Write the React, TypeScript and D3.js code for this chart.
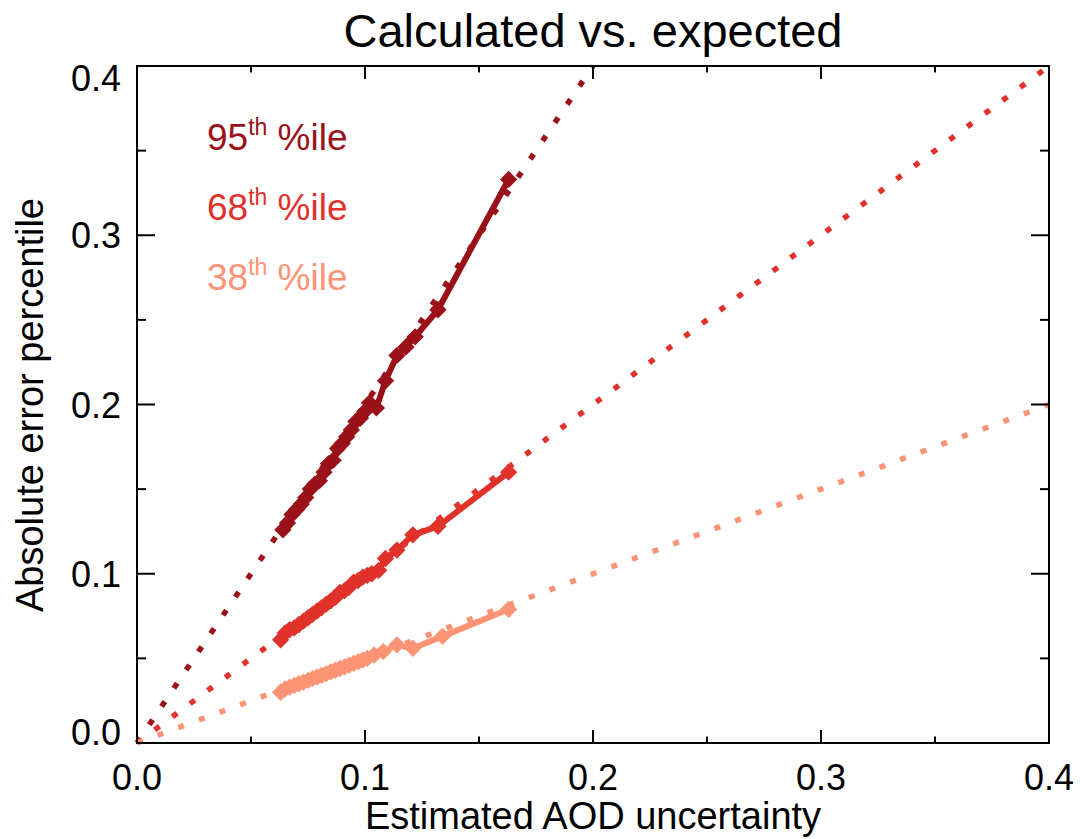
import React from "react";
import * as d3 from "d3";

const TITLE = "Calculated vs. expected";
const X_LABEL = "Estimated AOD uncertainty";
const Y_LABEL = "Absolute error percentile";

const xMajorTicks = [0, 0.1, 0.2, 0.3, 0.4];
const yMajorTicks = [0, 0.1, 0.2, 0.3, 0.4];
const minorTicks = [0.05, 0.15, 0.25, 0.35];
const tickLabels = ["0.0", "0.1", "0.2", "0.3", "0.4"];

const seriesNames = ["95", "68", "38"];
const seriesColors = ["#9b1119", "#e0312b", "#fc9374"];
const refSlopes = [2, 1, 0.5];

const p95X = [0.064, 0.066, 0.068, 0.070, 0.072, 0.074, 0.076, 0.078, 0.080, 0.082, 0.084, 0.086, 0.088, 0.090, 0.092, 0.094, 0.096, 0.098, 0.100, 0.102, 0.105, 0.109, 0.114, 0.118, 0.122, 0.132, 0.163];
const p95Y = [0.126, 0.130, 0.135, 0.138, 0.141, 0.145, 0.150, 0.153, 0.155, 0.160, 0.165, 0.167, 0.174, 0.177, 0.181, 0.185, 0.190, 0.192, 0.196, 0.201, 0.198, 0.214, 0.229, 0.234, 0.240, 0.256, 0.333];

const p68X = [0.063, 0.065, 0.067, 0.069, 0.071, 0.073, 0.075, 0.077, 0.079, 0.081, 0.083, 0.085, 0.087, 0.089, 0.091, 0.093, 0.095, 0.097, 0.099, 0.101, 0.103, 0.106, 0.109, 0.114, 0.121, 0.132, 0.163];
const p68Y = [0.061, 0.065, 0.067, 0.068, 0.070, 0.072, 0.074, 0.076, 0.078, 0.080, 0.082, 0.084, 0.086, 0.089, 0.090, 0.092, 0.095, 0.096, 0.098, 0.099, 0.100, 0.102, 0.109, 0.114, 0.123, 0.128, 0.160];

const p38X = [0.063, 0.065, 0.067, 0.069, 0.071, 0.073, 0.075, 0.077, 0.079, 0.081, 0.083, 0.085, 0.087, 0.089, 0.091, 0.093, 0.095, 0.097, 0.099, 0.101, 0.104, 0.108, 0.114, 0.121, 0.134, 0.163];
const p38Y = [0.030, 0.032, 0.033, 0.034, 0.035, 0.036, 0.037, 0.038, 0.039, 0.040, 0.041, 0.042, 0.043, 0.044, 0.045, 0.046, 0.047, 0.048, 0.049, 0.050, 0.052, 0.054, 0.058, 0.056, 0.063, 0.079];

const seriesX = [p95X, p68X, p38X];
const seriesY = [p95Y, p68Y, p38Y];

const W = 1080;
const H = 839;
const L = 137, R = 1049, T = 66, B = 743;
const FONT = "'Liberation Sans', Arial, Helvetica, sans-serif";

export default function App() {
  const x = d3.scaleLinear().domain([0, 0.4]).range([L, R]);
  const y = d3.scaleLinear().domain([0, 0.4]).range([B, T]);
  const line = d3.line<[number, number]>().x((d) => x(d[0])).y((d) => y(d[1]));
  const diamond = d3.symbol().type(d3.symbolSquare).size(150)();

  const refLines = refSlopes.map((s) => {
    const xEnd = Math.min(0.4, 0.4 / s);
    return line([[0, 0], [xEnd, xEnd * s]]) as string;
  });

  const xTickLen = 13, xMinorLen = 6.5, yTickLen = 18, yMinorLen = 9;

  return (
    <svg width={W} height={H} style={{ position: "absolute", left: 0, top: 0, background: "#fff" }} fontFamily={FONT}>
      <defs>
        <clipPath id="plotclip">
          <rect x={L - 4} y={T - 4} width={R - L + 8} height={B - T + 8} />
        </clipPath>
      </defs>
      <text x={(L + R) / 2} y={47} textAnchor="middle" fontSize={47} fill="#000">{TITLE}</text>

      {/* reference dotted lines */}
      <g clipPath="url(#plotclip)">
        {refLines.map((d, i) => (
          <path key={"ref" + i} d={d} fill="none" stroke={seriesColors[i]} strokeWidth={5.5} strokeDasharray="6 16" />
        ))}
      </g>

      {/* series */}
      {seriesX.map((xs, i) => {
        const pts = xs.map((v, j) => [v, seriesY[i][j]] as [number, number]);
        return (
          <g key={"s" + i}>
            <path d={line(pts) as string} fill="none" stroke={seriesColors[i]} strokeWidth={6} strokeLinejoin="round" />
            {pts.map((p, j) => (
              <path key={j} d={diamond as string} transform={`translate(${x(p[0])},${y(p[1])}) rotate(45)`} fill={seriesColors[i]} />
            ))}
          </g>
        );
      })}

      {/* axes box */}
      <rect x={L} y={T} width={R - L} height={B - T} fill="none" stroke="#000" strokeWidth={2} />
      {xMajorTicks.map((v) => (
        <g key={"xt" + v}>
          <line x1={x(v)} x2={x(v)} y1={B} y2={B - xTickLen} stroke="#000" strokeWidth={2} />
          <line x1={x(v)} x2={x(v)} y1={T} y2={T + xTickLen} stroke="#000" strokeWidth={2} />
        </g>
      ))}
      {minorTicks.map((v) => (
        <g key={"xm" + v}>
          <line x1={x(v)} x2={x(v)} y1={B} y2={B - xMinorLen} stroke="#000" strokeWidth={2} />
          <line x1={x(v)} x2={x(v)} y1={T} y2={T + xMinorLen} stroke="#000" strokeWidth={2} />
          <line x1={L} x2={L + yMinorLen} y1={y(v)} y2={y(v)} stroke="#000" strokeWidth={2} />
          <line x1={R} x2={R - yMinorLen} y1={y(v)} y2={y(v)} stroke="#000" strokeWidth={2} />
        </g>
      ))}
      {yMajorTicks.map((v) => (
        <g key={"yt" + v}>
          <line x1={L} x2={L + yTickLen} y1={y(v)} y2={y(v)} stroke="#000" strokeWidth={2} />
          <line x1={R} x2={R - yTickLen} y1={y(v)} y2={y(v)} stroke="#000" strokeWidth={2} />
        </g>
      ))}

      {/* tick labels */}
      {xMajorTicks.map((v, i) => (
        <text key={"xl" + v} x={x(v)} y={790} textAnchor="middle" fontSize={36} fill="#000">{tickLabels[i]}</text>
      ))}
      {yMajorTicks.map((v, i) => {
        let cy = y(v);
        if (i === 0) cy = B - 11;
        if (i === yMajorTicks.length - 1) cy = T + 12;
        return (
          <text key={"yl" + v} x={121} y={cy + 13} textAnchor="end" fontSize={36} fill="#000">{tickLabels[i]}</text>
        );
      })}

      <text x={(L + R) / 2} y={829} textAnchor="middle" fontSize={38} fill="#000">{X_LABEL}</text>
      <text transform={`translate(43,405) rotate(-90)`} textAnchor="middle" fontSize={38} fill="#000">{Y_LABEL}</text>

      {/* legend */}
      {seriesNames.map((n, i) => (
        <text key={"lg" + i} x={207} y={150 + i * 70} fontSize={37} fill={seriesColors[i]}>
          {n}
          <tspan fontSize={23} dy={-15}>th</tspan>
          <tspan dy={15}> %ile</tspan>
        </text>
      ))}
    </svg>
  );
}
